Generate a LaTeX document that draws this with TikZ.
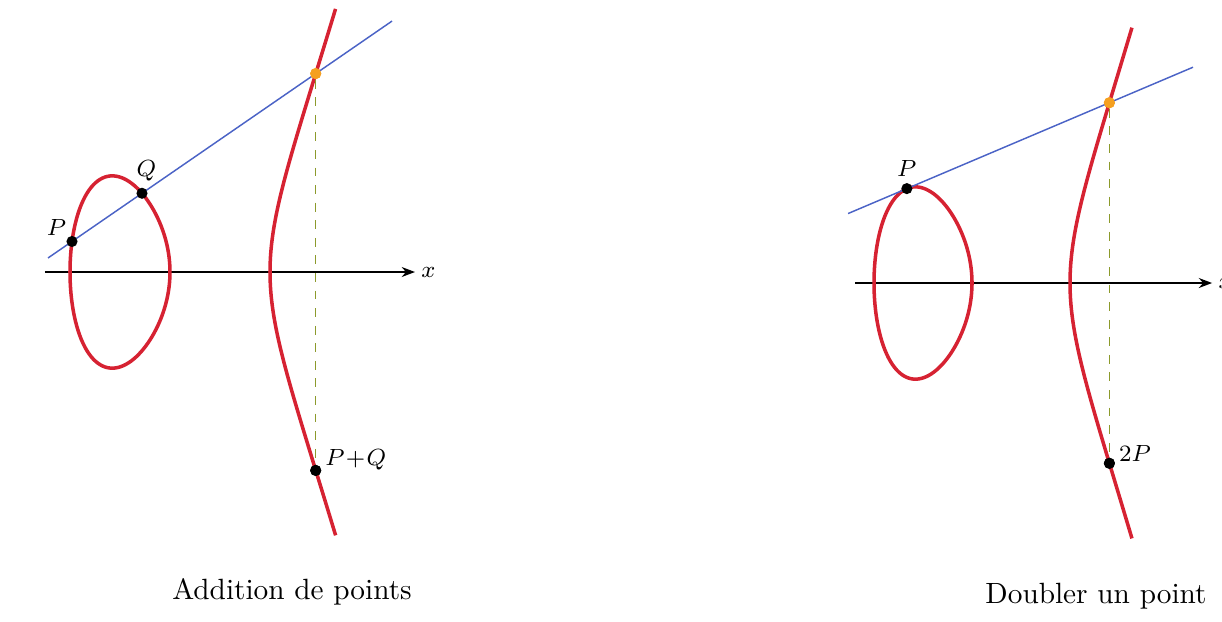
\documentclass[tikz,border=0pt]{standalone}
\usepackage{tikz}
\usetikzlibrary{arrows.meta,positioning}
\definecolor{crv}{HTML}{D62232}
\definecolor{sec}{HTML}{4B63C6}
\definecolor{drp}{HTML}{8C9A2C}
\definecolor{hit}{HTML}{F5A020}
\tikzset{
  curve/.style={line width=1.2pt,crv},
  secant/.style={line width=0.5pt,sec},
  drop/.style={line width=0.45pt,drp,dashed},
  axis/.style={-{Stealth[length=1.6mm]},line width=0.5pt},
  pt/.style={circle,fill=black,inner sep=0pt,minimum size=3.8pt},
  hitpt/.style={pt,fill=hit},
  lbl/.style={font=\footnotesize,inner sep=1pt}
}

\begin{document}
\begin{tikzpicture}[x=1.2cm,y=1.2cm]
\useasboundingbox (-1.70,-3.49) rectangle (10.52,2.72);
\begin{scope}[yscale=1.55]
\coordinate (ax1) at (-1.25,0);
\coordinate (ax2) at (2.45,0);
\draw[axis] (ax1) -- (ax2);
\node[lbl,right=1pt of ax2] (xl) {$x$};
\draw[curve] plot[domain=0:360,samples=120,smooth]
  ({-(1+cos(\x))/2},{sin(\x)/2*sqrt(1.5+cos(\x)/2)});
\draw[curve] plot[domain=-0.81:0.81,samples=60,smooth]
  ({1+(\x)*(\x)},{(\x)*sqrt((1+(\x)*(\x))*(2+(\x)*(\x)))});
\coordinate (s1) at (-1.22,0.0904);
\coordinate (s2) at (2.22,1.6186);
\draw[secant] (s1) -- (s2);
\node[pt] (P) at (-0.98,0.197) {};
\node[pt] (Q) at (-0.28,0.508) {};
\node[hitpt] (R) at (1.457,1.280) {};
\node[pt] (S) at (1.457,-1.280) {};
\draw[drop] (R) -- (S);
\node[hitpt] at (R) {};
\node[pt] at (S) {};
\node[lbl,above left=-1pt of P] (Pl) {$P$};
\node[lbl,above=1pt of Q,xshift=1.5pt] (Ql) {$Q$};
\node[lbl,right=0pt of S,yshift=3.5pt] (Sl) {$P\!+\!Q$};
\end{scope}
\begin{scope}[shift={(8.02,-0.11)},xscale=0.98,yscale=1.55]
\coordinate (bx1) at (-1.19,0);
\coordinate (bx2) at (2.45,0);
\draw[axis] (bx1) -- (bx2);
\node[lbl,right=1pt of bx2] (xr) {$x$};
\draw[curve] plot[domain=0:360,samples=120,smooth]
  ({-(1+cos(\x))/2},{sin(\x)/2*sqrt(1.5+cos(\x)/2)});
\draw[curve] plot[domain=-0.795:0.795,samples=60,smooth]
  ({1+(\x)*(\x)},{(\x)*sqrt((1+(\x)*(\x))*(2+(\x)*(\x)))});
\coordinate (t1) at (-1.265,0.448);
\coordinate (t2) at (2.255,1.392);
\draw[secant] (t1) -- (t2);
\node[pt] (T) at (-0.665,0.609) {};
\node[hitpt] (U) at (1.402,1.163) {};
\node[pt] (D) at (1.402,-1.163) {};
\draw[drop] (U) -- (D);
\node[hitpt] at (U) {};
\node[pt] at (D) {};
\node[lbl,above=1pt of T] (Tl) {$P$};
\node[lbl,right=0pt of D,yshift=3.5pt] (Dl) {$2P$};
\end{scope}
\node (capL) at (1.22,-3.20) {Addition de points};
\node (capR) at (9.26,-3.24) {Doubler un point};
\end{tikzpicture}
\end{document}
